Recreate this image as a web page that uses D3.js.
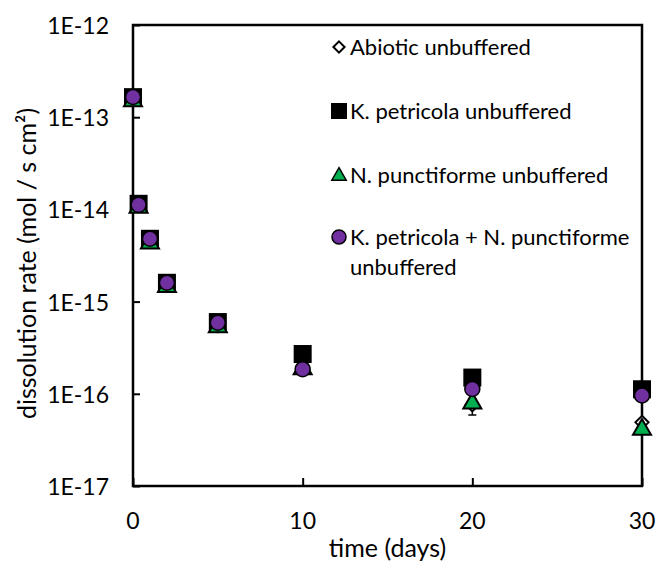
<!DOCTYPE html>
<html>
<head>
<meta charset="utf-8">
<script src="https://cdn.jsdelivr.net/npm/d3@7"></script>
<style>
  body { margin: 0; background: #fff; }
  text { font-family: Lato, "Open Sans", sans-serif; fill: #000; }
</style>
</head>
<body>
<div id="chart"></div>
<script>
// sampling times (days)
var days = [0, 0.33, 1, 2, 5, 10, 20, 30];

// dissolution rates (mol / s cm2)
var abiotic = [1.6e-13, 1.1e-14, 4.5e-15, 1.5e-15, 5.5e-16, 1.9e-16, 7.6e-17, 4.9e-17];
var kPetricola = [1.65e-13, 1.15e-14, 4.8e-15, 1.6e-15, 6.0e-16, 2.7e-16, 1.5e-16, 1.12e-16];
var nPunctiforme = [1.5e-13, 1.05e-14, 4.3e-15, 1.45e-15, 5.3e-16, 1.85e-16, 7.9e-17, 4.1e-17];
var nPunctiformeErr = [0, 0, 0, 0, 0, 0, 2e-17, 0];
var combined = [1.66e-13, 1.12e-14, 4.8e-15, 1.6e-15, 5.9e-16, 1.85e-16, 1.13e-16, 9.6e-17];

var seriesNames = ["Abiotic unbuffered", "K. petricola unbuffered", "N. punctiforme unbuffered",
                   "K. petricola + N. punctiforme unbuffered"];
var xTicks = [0, 10, 20, 30];
var yTicks = [1e-17, 1e-16, 1e-15, 1e-14, 1e-13, 1e-12];

var W = 656, H = 564;
var margin = {top: 25, right: 14, bottom: 78, left: 133};

var svg = d3.select("#chart").append("svg")
    .attr("width", W).attr("height", H);

var x = d3.scaleLinear().domain([0, 30]).range([margin.left, W - margin.right]);
var y = d3.scaleLog().domain([1e-17, 1e-12]).range([H - margin.bottom, margin.top]);

function sci(d) {
  return "1E" + Math.round(Math.log10(d));
}

// frame
svg.append("rect")
    .attr("x", x(0)).attr("y", y(1e-12))
    .attr("width", x(30) - x(0)).attr("height", y(1e-17) - y(1e-12))
    .attr("fill", "none").attr("stroke", "#000").attr("stroke-width", 2.5);

// y axis, ticks inside
var yAxis = svg.append("g")
    .attr("transform", "translate(" + x(0) + ",0)")
    .call(d3.axisRight(y).tickValues(yTicks).tickSize(7).tickFormat(""));
yAxis.select(".domain").remove();
yAxis.selectAll("line").attr("stroke-width", 2);

svg.selectAll(".ylab").data(yTicks).enter().append("text")
    .attr("class", "ylab")
    .attr("x", x(0) - 24)
    .attr("y", function(d) { return y(d) + 9; })
    .attr("text-anchor", "end")
    .style("font-size", "23px")
    .text(sci);

// x axis, ticks inside
var xAxis = svg.append("g")
    .attr("transform", "translate(0," + y(1e-17) + ")")
    .call(d3.axisTop(x).tickValues(xTicks).tickSize(8).tickFormat(""));
xAxis.select(".domain").remove();
xAxis.selectAll("line").attr("stroke-width", 2);

svg.selectAll(".xlab").data(xTicks).enter().append("text")
    .attr("class", "xlab")
    .attr("x", function(d) { return x(d); })
    .attr("y", y(1e-17) + 43)
    .attr("text-anchor", "middle")
    .style("font-size", "23px")
    .text(function(d) { return d; });

svg.append("text")
    .attr("x", (x(0) + x(30)) / 2)
    .attr("y", H - 7)
    .attr("text-anchor", "middle")
    .style("font-size", "25px")
    .text("time (days)");

svg.append("text")
    .attr("transform", "translate(36," + ((y(1e-12) + y(1e-17)) / 2 + 8) + ") rotate(-90)")
    .attr("text-anchor", "middle")
    .style("font-size", "25px")
    .text("dissolution rate (mol / s cm²)");

// marker shapes
var diamond = d3.symbol().type(d3.symbolDiamond2).size(110);
var triangle = d3.symbol().type(d3.symbolTriangle).size(140);

function rows(vals) {
  return vals.map(function(v, i) { return {t: days[i], v: v, i: i}; });
}

// error bars for N. punctiforme
svg.selectAll(".err").data(rows(nPunctiforme).filter(function(d) { return nPunctiformeErr[d.i] > 0; }))
  .enter().append("path")
    .attr("class", "err")
    .attr("fill", "none").attr("stroke", "#000").attr("stroke-width", 1.5)
    .attr("d", function(d) {
      var cx = x(d.t), y0 = y(d.v - nPunctiformeErr[d.i]), y1 = y(d.v + nPunctiformeErr[d.i]);
      return "M" + cx + "," + y0 + "V" + y1 + "M" + (cx - 4) + "," + y0 + "H" + (cx + 4);
    });

svg.selectAll(".abiotic").data(rows(abiotic)).enter().append("path")
    .attr("transform", function(d) { return "translate(" + x(d.t) + "," + y(d.v) + ")"; })
    .attr("d", diamond)
    .attr("fill", "#fff").attr("stroke", "#000").attr("stroke-width", 2);

svg.selectAll(".kp").data(rows(kPetricola)).enter().append("rect")
    .attr("x", function(d) { return x(d.t) - 9; })
    .attr("y", function(d) { return y(d.v) - 9; })
    .attr("width", 18).attr("height", 18)
    .attr("fill", "#000");

svg.selectAll(".np").data(rows(nPunctiforme)).enter().append("path")
    .attr("transform", function(d) { return "translate(" + x(d.t) + "," + y(d.v) + ")"; })
    .attr("d", triangle)
    .attr("fill", "#00B050").attr("stroke", "#000").attr("stroke-width", 2);

svg.selectAll(".both").data(rows(combined)).enter().append("circle")
    .attr("cx", function(d) { return x(d.t); })
    .attr("cy", function(d) { return y(d.v); })
    .attr("r", 7.5)
    .attr("fill", "#7030A0").attr("stroke", "#000").attr("stroke-width", 1.5);

// legend
var legX = 339, legRows = [47, 111, 175, 237];
var leg = svg.append("g");

leg.append("path").attr("transform", "translate(" + legX + "," + legRows[0] + ")")
    .attr("d", d3.symbol().type(d3.symbolDiamond2).size(80))
    .attr("fill", "#fff").attr("stroke", "#000").attr("stroke-width", 2);
leg.append("rect").attr("x", legX - 8).attr("y", legRows[1] - 8)
    .attr("width", 16).attr("height", 16).attr("fill", "#000");
leg.append("path").attr("transform", "translate(" + legX + "," + (legRows[2] + 1) + ")")
    .attr("d", d3.symbol().type(d3.symbolTriangle).size(90))
    .attr("fill", "#00B050").attr("stroke", "#000").attr("stroke-width", 1.5);
leg.append("circle").attr("cx", legX).attr("cy", legRows[3]).attr("r", 7)
    .attr("fill", "#7030A0").attr("stroke", "#000").attr("stroke-width", 1.5);

seriesNames.forEach(function(name, i) {
  var t = leg.append("text")
      .attr("x", 350)
      .attr("y", legRows[i] + 8)
      .style("font-size", "22px");
  if (i === 3) {
    t.append("tspan").text("K. petricola + N. punctiforme");
    t.append("tspan").attr("x", 350).attr("dy", 30).text("unbuffered");
  } else {
    t.text(name);
  }
});
</script>
</body>
</html>
